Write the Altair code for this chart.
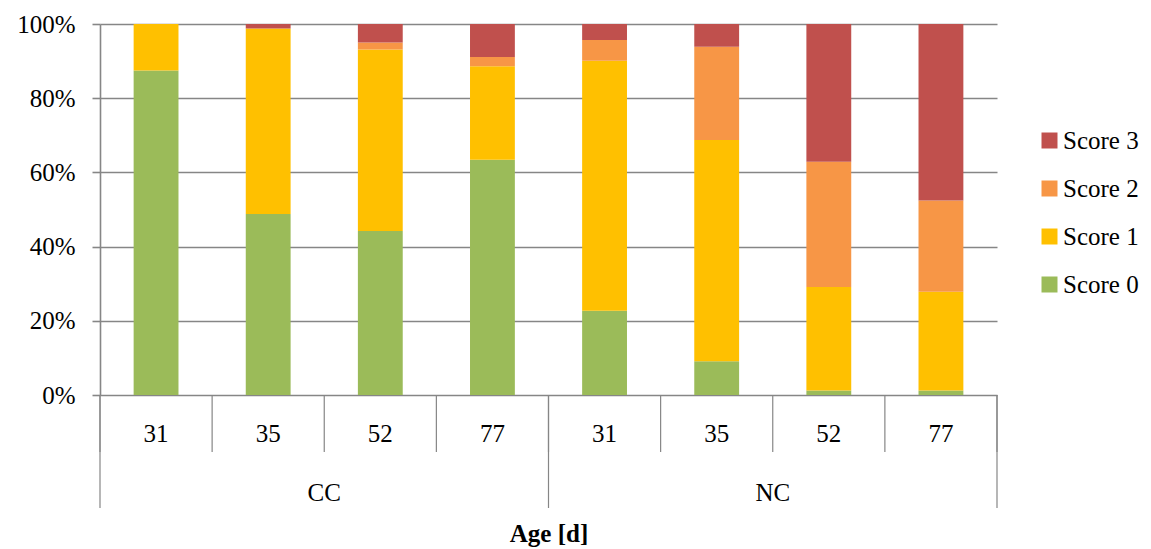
import altair as alt
import pandas as pd

groups = ["CC", "CC", "CC", "CC", "NC", "NC", "NC", "NC"]
ages = ["31", "35", "52", "77", "31", "35", "52", "77"]
score0 = [87.5, 48.8, 44.2, 63.4, 22.7, 9.1, 1.2, 1.2]
score1 = [12.5, 50.0, 48.9, 25.2, 67.4, 59.6, 27.9, 26.6]
score2 = [0.0, 0.0, 1.9, 2.5, 5.6, 25.2, 33.8, 24.6]
score3 = [0.0, 1.2, 5.0, 8.9, 4.3, 6.1, 37.1, 47.6]
score_names = ["Score 0", "Score 1", "Score 2", "Score 3"]
colors = ["#9BBB59", "#FFC000", "#F79646", "#C0504D"]
group_names = ["CC", "NC"]

FONT = "Liberation Serif"
FS = 25
GRID = "#868686"

rows = []
for i in range(len(ages)):
    for k, s in enumerate([score0, score1, score2, score3]):
        rows.append({"idx": i, "x0": i + 0.3, "x1": i + 0.7, "group": groups[i],
                     "age": ages[i], "score": score_names[k], "order": k,
                     "value": s[i]})
df = pd.DataFrame(rows)

W, H = 897, 371
xscale = alt.Scale(domain=[0, len(ages)], nice=False, zero=False, padding=0)
yscale = alt.Scale(domain=[0, 1], nice=False, padding=0)

bars = alt.Chart(df).transform_stack(
    stack="value", groupby=["idx"], as_=["y0", "y1"],
    sort=[alt.SortField("order", order="ascending")], offset="normalize",
).mark_bar().encode(
    x=alt.X("x0:Q", scale=xscale,
            axis=alt.Axis(title="Age [d]", labels=False, ticks=False, domain=False,
                          grid=False, titleFont=FONT, titleFontSize=FS,
                          titleFontWeight="bold", titleColor="black",
                          titleY=138, titleBaseline="middle")),
    x2="x1:Q",
    y=alt.Y("y0:Q", scale=yscale,
            axis=alt.Axis(title=None, format=".0%", values=[0, 0.2, 0.4, 0.6, 0.8, 1.0],
                          grid=True, gridColor=GRID, gridWidth=1.6, gridOpacity=1,
                          domainColor=GRID, domainWidth=1.6, tickColor=GRID,
                          tickWidth=1.6, tickSize=8, labelPadding=17,
                          labelFont=FONT, labelFontSize=FS, labelColor="black")),
    y2="y1:Q",
    color=alt.Color("score:N", scale=alt.Scale(domain=score_names, range=colors),
                    legend=alt.Legend(title=None, orient="none", legendX=937, legendY=104,
                                      symbolType="square", symbolSize=256,
                                      symbolStrokeWidth=0, labelFont=FONT,
                                      labelFontSize=FS, labelColor="black",
                                      rowPadding=22, labelOffset=1, padding=0,
                                      values=score_names[::-1])),
)

cat_df = pd.DataFrame({"pos": [i + 0.5 for i in range(len(ages))], "age": ages})
div_df = pd.DataFrame({"pos": list(range(len(ages) + 1))})
grp_div_df = pd.DataFrame({"pos": [0, 4, 8]})
grp_df = pd.DataFrame({"pos": [2, 6], "group": group_names})

short_rules = alt.Chart(div_df).mark_rule(color=GRID, strokeWidth=1.2).encode(
    x=alt.X("pos:Q", scale=xscale), y=alt.value(H), y2=alt.value(H + 57))
long_rules = alt.Chart(grp_div_df).mark_rule(color=GRID, strokeWidth=1.2).encode(
    x=alt.X("pos:Q", scale=xscale), y=alt.value(H), y2=alt.value(H + 113))
age_text = alt.Chart(cat_df).mark_text(font=FONT, fontSize=FS, color="black",
                                       baseline="middle").encode(
    x=alt.X("pos:Q", scale=xscale), y=alt.value(H + 39), text="age:N")
grp_text = alt.Chart(grp_df).mark_text(font=FONT, fontSize=FS, color="black",
                                       baseline="middle").encode(
    x=alt.X("pos:Q", scale=xscale), y=alt.value(H + 98), text="group:N")

chart = alt.layer(bars, short_rules, long_rules, age_text, grp_text).properties(
    width=W, height=H,
    autosize=alt.AutoSizeParams(type="none"),
    padding={"left": 92, "top": 16, "right": 146, "bottom": 154},
).configure_view(stroke=None)

chart.save("out.html", embed_options={"renderer": "svg", "actions": False})
